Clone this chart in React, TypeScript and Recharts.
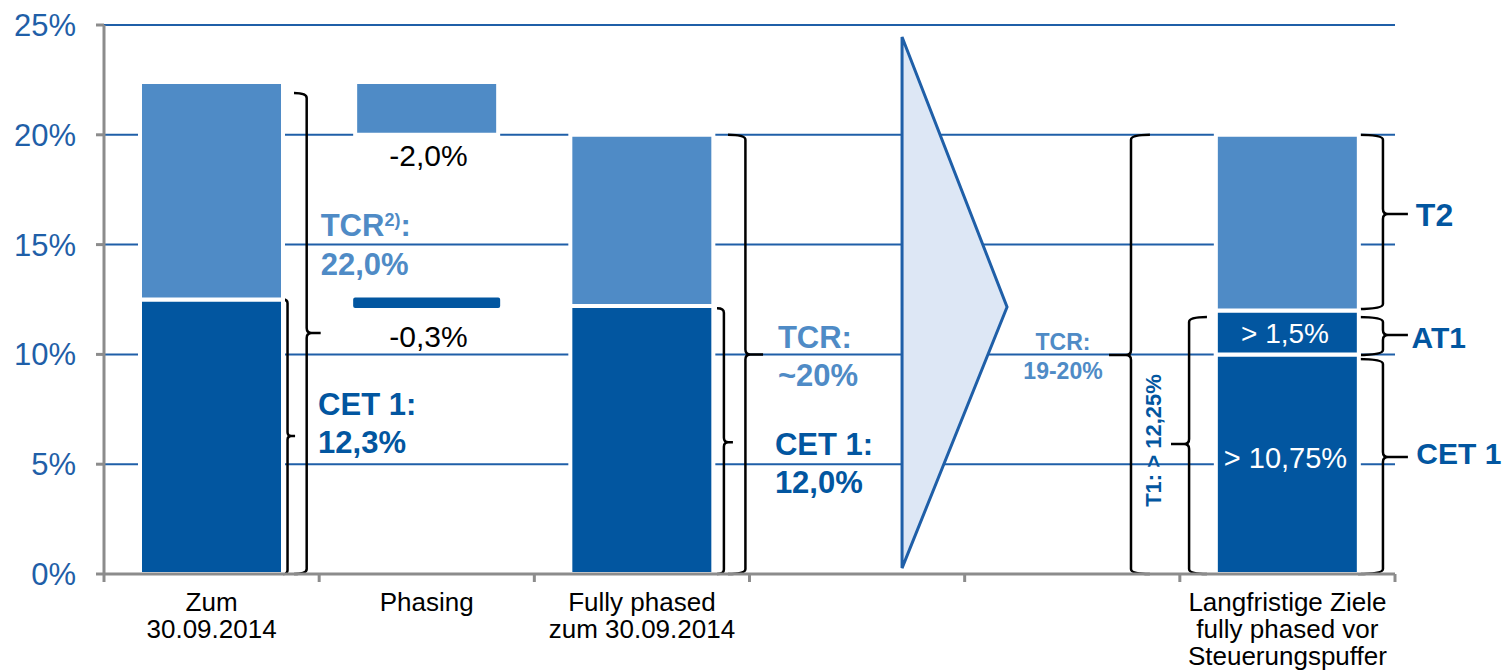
import React from 'react';
import {
  ComposedChart,
  Bar,
  XAxis,
  YAxis,
  CartesianGrid,
  Cell,
  ReferenceArea,
  ReferenceDot,
} from 'recharts';

// ---------- data ----------
const categories = [
  'Zum\n30.09.2014',
  'Phasing',
  'Fully phased\nzum 30.09.2014',
  '',
  '',
  'Langfristige Ziele\nfully phased vor\nSteuerungspuffer',
];
const baseLow = [0, 12.2, 0, 0, 0, 0]; // invisible offset (waterfall)
const cet1 = [12.5, 0.3, 12.2, 0, 0, 10.0];
const at1 = [0, 0, 0, 0, 0, 2.0];
const gapMid = [0, 7.5, 0, 0, 0, 0]; // invisible offset (waterfall)
const t2 = [9.9, 2.4, 7.8, 0, 0, 8.0];
const yTicks = [0, 5, 10, 15, 20, 25];
const xBoundaryTicks = [0, 0.5, 1, 1.5, 2, 2.5, 3, 3.5, 4, 4.5, 5, 5.5, 6];

// braces: hook end, stem, tip (category units); top, bottom, mid (percent)
const braces = [
  { hook: 0.832, stem: 0.853, tip: 0.888, top: 12.5, bottom: 0, mid: 6.28 },
  { hook: 0.883, stem: 0.942, tip: 1.007, top: 21.9, bottom: 0, mid: 10.97 },
  { hook: 2.849, stem: 2.881, tip: 2.923, top: 12.1, bottom: 0, mid: 6.0 },
  { hook: 2.9, stem: 2.981, tip: 3.063, top: 20.0, bottom: 0, mid: 10.0 },
  { hook: 4.861, stem: 4.773, tip: 4.671, top: 20.0, bottom: 0, mid: 9.97 },
  { hook: 5.126, stem: 5.043, tip: 4.959, top: 11.7, bottom: 0, mid: 5.92 },
  { hook: 5.828, stem: 5.944, tip: 6.06, top: 20.0, bottom: 12.07, mid: 16.39 },
  { hook: 5.828, stem: 5.944, tip: 6.06, top: 11.7, bottom: 9.97, mid: 10.88 },
  { hook: 5.828, stem: 5.944, tip: 6.06, top: 9.79, bottom: 0, mid: 5.33 },
];

const arrow = { left: 3.709, right: 4.197, top: 24.45, bottom: 0.27, tipY: 12.16 };

const DARK = '#0256a0';
const LIGHT = '#4f8bc6';
const GRID = '#1f5fa8';
const AXIS = '#8c8c8c';
const FONT = '"Liberation Sans", Arial, sans-serif';

type Note = {
  x: number;
  y: number;
  lines: string[];
  size: number;
  color: string;
  bold?: boolean;
  anchor?: 'start' | 'middle' | 'end';
  lh?: number;
  rotate?: boolean;
  sup?: string;
};

const notes: Note[] = [
  { x: 1.007, y: 15.4, lines: ['TCR', '22,0%'], sup: '2)', size: 31, color: LIGHT, bold: true, lh: 39 },
  { x: 0.995, y: 7.24, lines: ['CET 1:', '12,3%'], size: 31, color: DARK, bold: true, lh: 38 },
  { x: 1.508, y: 18.58, lines: ['-2,0%'], size: 30, color: '#000', anchor: 'middle' },
  { x: 1.508, y: 10.34, lines: ['-0,3%'], size: 30, color: '#000', anchor: 'middle' },
  { x: 3.132, y: 10.3, lines: ['TCR:', '~20%'], size: 31, color: LIGHT, bold: true, lh: 38 },
  { x: 3.118, y: 5.42, lines: ['CET 1:', '12,0%'], size: 31, color: DARK, bold: true, lh: 38 },
  { x: 4.457, y: 10.2, lines: ['TCR:', '19-20%'], size: 23, color: LIGHT, bold: true, anchor: 'middle', lh: 29 },
  { x: 6.097, y: 15.85, lines: ['T2'], size: 32, color: DARK, bold: true },
  { x: 6.077, y: 10.3, lines: ['AT1'], size: 30, color: DARK, bold: true },
  { x: 6.099, y: 5.0, lines: ['CET 1'], size: 30, color: DARK, bold: true },
  { x: 5.489, y: 10.52, lines: ['> 1,5%'], size: 28, color: '#fff', anchor: 'middle' },
  { x: 5.491, y: 4.83, lines: ['> 10,75%'], size: 29, color: '#fff', anchor: 'middle' },
  { x: 4.912, y: 6.08, lines: ['T1: > 12,25%'], size: 22, color: DARK, bold: true, anchor: 'middle', rotate: true },
];

const data = categories.map((c, i) => ({
  pos: i + 0.5,
  label: c,
  baseLow: baseLow[i],
  cet1: cet1[i],
  at1: at1[i],
  gapMid: gapMid[i],
  t2: t2[i],
}));

// ---------- shapes ----------
const braceShape = (b: (typeof braces)[number]) => (p: any) => {
  const { x, y, width, height } = p;
  const xs = [b.hook, b.stem, b.tip];
  const xmin = Math.min(...xs);
  const xmax = Math.max(...xs);
  const px = (v: number) => x + ((v - xmin) / (xmax - xmin)) * width;
  const py = (v: number) => y + ((b.top - v) / (b.top - b.bottom)) * height;
  const H = px(b.hook);
  const V = px(b.stem);
  const T = px(b.tip);
  const Y0 = py(b.top);
  const Y1 = py(b.bottom);
  const M = py(b.mid);
  const r = Math.max(1, Math.min(5, Math.abs(V - H), Math.abs(T - V) / 2, (M - Y0) / 2, (Y1 - M) / 2));
  const sT = T > V ? 1 : -1;
  const d =
    `M ${H} ${Y0} Q ${V} ${Y0} ${V} ${Y0 + r} L ${V} ${M - r} Q ${V} ${M} ${V + sT * r} ${M} L ${T} ${M} ` +
    `M ${V + sT * r} ${M} Q ${V} ${M} ${V} ${M + r} L ${V} ${Y1 - r} Q ${V} ${Y1} ${H} ${Y1}`;
  return <path d={d} fill="none" stroke="#000" strokeWidth={2.5} strokeLinecap="butt" />;
};

const arrowShape = (p: any) => {
  const { x, y, width, height } = p;
  const f = (arrow.top - arrow.tipY) / (arrow.top - arrow.bottom);
  return (
    <polygon
      points={`${x},${y} ${x + width},${y + height * f} ${x},${y + height}`}
      fill="#dde7f5"
      stroke={GRID}
      strokeWidth={3}
      strokeLinejoin="miter"
    />
  );
};

const noteShape = (n: Note) => (p: any) => {
  const { cx, cy } = p;
  const lh = n.lh ?? n.size * 1.2;
  const common = {
    fontFamily: FONT,
    fontSize: n.size,
    fontWeight: n.bold ? 700 : 400,
    fill: n.color,
    textAnchor: n.anchor ?? 'start',
  } as any;
  if (n.sup) {
    return (
      <text x={cx} y={cy} {...common}>
        <tspan>{n.lines[0]}</tspan>
        <tspan fontSize={18} dy={-10}>{n.sup}</tspan>
        <tspan dy={10}>:</tspan>
        <tspan x={cx} dy={lh}>{n.lines[1]}</tspan>
      </text>
    );
  }
  return (
    <text
      x={cx}
      y={cy}
      {...common}
      transform={n.rotate ? `rotate(-90 ${cx} ${cy})` : undefined}
    >
      {n.lines.map((l, i) => (
        <tspan key={i} x={cx} dy={i === 0 ? 0 : lh}>
          {l}
        </tspan>
      ))}
    </text>
  );
};

const CatTick = (props: any) => {
  const { x, y, payload } = props;
  const v = payload.value as number;
  if (Number.isInteger(v)) {
    return <line x1={x} x2={x} y1={y - 8} y2={y} stroke={AXIS} strokeWidth={3} />;
  }
  const lines = (categories[Math.floor(v)] || '').split('\n');
  return (
    <text x={x} y={y + 29} textAnchor="middle" fontSize={26} fill="#000" fontFamily={FONT}>
      {lines.map((l, i) => (
        <tspan key={i} x={x} dy={i === 0 ? 0 : 27}>
          {l}
        </tspan>
      ))}
    </text>
  );
};

const noStroke = { stroke: 'none' };

export default function App() {
  return (
    <div style={{ position: 'absolute', left: 0, top: 0, width: 1507, height: 670, background: '#fff', fontFamily: FONT }}>
      <ComposedChart
        width={1507}
        height={670}
        data={data}
        margin={{ top: 25, right: 112, bottom: 0, left: 0 }}
        barSize={143}
      >
        <CartesianGrid horizontal vertical={false} stroke={GRID} strokeWidth={2} />
        <XAxis
          dataKey="pos"
          type="number"
          domain={[0, 6]}
          ticks={xBoundaryTicks}
          interval={0}
          allowDataOverflow
          height={96}
          tickSize={8}
          tickMargin={0}
          tickLine={false}
          axisLine={{ stroke: AXIS, strokeWidth: 3 }}
          tick={<CatTick />}
        />
        <YAxis
          domain={[0, 25]}
          ticks={yTicks}
          width={104}
          tickSize={8}
          tickMargin={20}
          axisLine={{ stroke: AXIS, strokeWidth: 3 }}
          tickLine={{ stroke: AXIS, strokeWidth: 3 }}
          tick={{ fontSize: 31, fill: GRID, fontFamily: FONT }}
          tickFormatter={(v: number) => `${v}%`}
          allowDataOverflow
        />
        <Bar dataKey="baseLow" stackId="s" fill="transparent" isAnimationActive={false} {...noStroke} />
        <Bar dataKey="cet1" stackId="s" fill={DARK} isAnimationActive={false}>
          {data.map((d, i) => (
            <Cell
              key={i}
              fill={DARK}
              stroke={i === 1 ? DARK : '#fff'}
              strokeWidth={4}
              strokeLinejoin={i === 1 ? 'round' : 'miter'}
            />
          ))}
        </Bar>
        <Bar dataKey="at1" stackId="s" fill={DARK} stroke="#fff" strokeWidth={4} isAnimationActive={false} />
        <Bar dataKey="gapMid" stackId="s" fill="transparent" isAnimationActive={false} {...noStroke} />
        <Bar dataKey="t2" stackId="s" fill={LIGHT} stroke="#fff" strokeWidth={4} isAnimationActive={false} />

        <ReferenceArea
          x1={arrow.left}
          x2={arrow.right}
          y1={arrow.bottom}
          y2={arrow.top}
          ifOverflow="visible"
          shape={arrowShape}
        />
        {braces.map((b, i) => (
          <ReferenceArea
            key={'b' + i}
            x1={Math.min(b.hook, b.stem, b.tip)}
            x2={Math.max(b.hook, b.stem, b.tip)}
            y1={b.bottom}
            y2={b.top}
            ifOverflow="visible"
            shape={braceShape(b)}
          />
        ))}
        {notes.map((n, i) => (
          <ReferenceDot
            key={'n' + i}
            x={n.x}
            y={n.y}
            r={0}
            ifOverflow="visible"
            shape={noteShape(n)}
          />
        ))}
      </ComposedChart>
    </div>
  );
}
